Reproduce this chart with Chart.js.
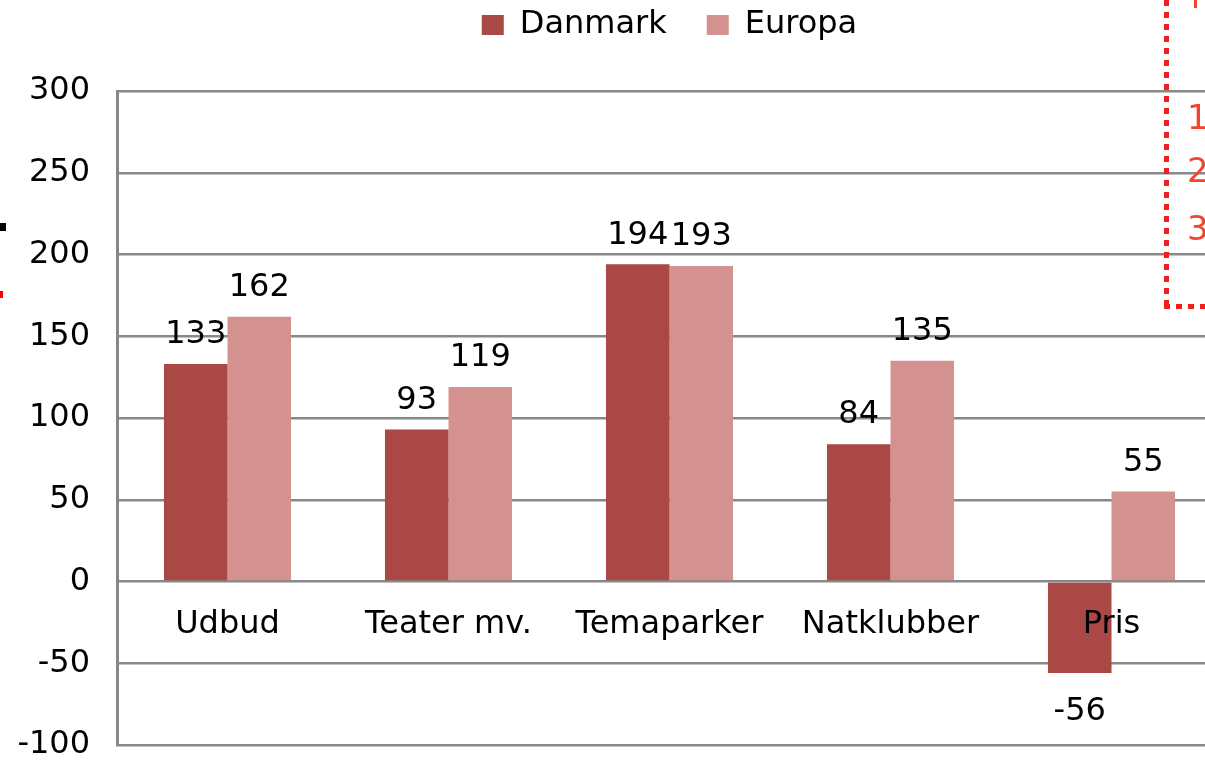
<!DOCTYPE html>
<html>
<head>
<meta charset="utf-8">
<title>udbud og pris</title>
<script src="https://cdn.jsdelivr.net/npm/chart.js@4/dist/chart.umd.min.js"></script>
<style>
  html, body { margin: 0; padding: 0; background: #fff; overflow: hidden; }
  #wrap { position: relative; width: 1205px; height: 760px; overflow: hidden; }
  #chart { position: absolute; left: 0; top: 0; }
  /* rester af en tekstboks ved siden af grafen */
  .prik-v { position: absolute; left: 1164px; top: 0; width: 5px; height: 306px;
    background: repeating-linear-gradient(to bottom, #f21d1d 0 6px, transparent 6px 12px); }
  .prik-h { position: absolute; left: 1164px; top: 304px; width: 60px; height: 5px;
    background: repeating-linear-gradient(to right, #f21d1d 0 6px, transparent 6px 12px); }
  .rod-tal { position: absolute; left: 1187px; font: 34px "DejaVu Sans", sans-serif; color: #f2452d; line-height: 1; }
  .rod-streg { position: absolute; left: 1194px; top: 0; width: 3px; height: 8px; background: #f2452d; }
  .sort-prik { position: absolute; left: 0; top: 223px; width: 6px; height: 8px; background: #000; }
  .rod-prik { position: absolute; left: 0; top: 291px; width: 3px; height: 7px; background: #f00; }
</style>
</head>
<body>
<div id="wrap">
  <canvas id="chart" width="1240" height="788"></canvas>
  <div class="prik-v"></div>
  <div class="prik-h"></div>
  <div class="rod-streg"></div>
  <div class="rod-tal" style="top:100px">1</div>
  <div class="rod-tal" style="top:153px">2</div>
  <div class="rod-tal" style="top:211px">3</div>
  <div class="sort-prik"></div>
  <div class="rod-prik"></div>
</div>
<script>
"use strict";

// data
var kategorier = ["Udbud", "Teater mv.", "Temaparker", "Natklubber", "Pris"];
var danmark = [133, 93, 194, 84, -56];
var europa = [162, 119, 193, 135, 55];
var yTicks = [-100, -50, 0, 50, 100, 150, 200, 250, 300];

var FONT = "'DejaVu Sans', Verdana, sans-serif";

// vaerdier over / under soejlerne
var vaerdiLabels = {
  id: "vaerdiLabels",
  afterDatasetsDraw: function (chart) {
    var ctx = chart.ctx;
    ctx.save();
    ctx.font = "32px " + FONT;
    ctx.fillStyle = "#000";
    ctx.textAlign = "center";
    ctx.textBaseline = "middle";
    chart.data.datasets.forEach(function (ds, i) {
      var meta = chart.getDatasetMeta(i);
      meta.data.forEach(function (el, j) {
        var v = ds.data[j];
        var y = v >= 0 ? el.y - 29 : el.y + 39;
        ctx.fillText(String(v), el.x, y);
      });
    });
    ctx.restore();
  }
};

// legenden centreres over plotomraadet
var legendePlacering = {
  id: "legendePlacering",
  afterLayout: function (chart) {
    var lg = chart.legend;
    if (!lg) { return; }
    lg.left = chart.chartArea.left;
    lg.right = chart.chartArea.right;
    lg.top = 9 - lg.options.labels.padding;
  }
};

new Chart(document.getElementById("chart").getContext("2d"), {
  type: "bar",
  data: {
    labels: kategorier,
    datasets: [
      { label: "Danmark", data: danmark, backgroundColor: "#aa4845" },
      { label: "Europa", data: europa, backgroundColor: "#d39290" }
    ]
  },
  options: {
    responsive: false,
    animation: false,
    events: [],
    datasets: { bar: { categoryPercentage: 0.575, barPercentage: 1 } },
    layout: { padding: { left: 0, right: 18, top: 9, bottom: 0 } },
    plugins: {
      tooltip: { enabled: false },
      legend: {
        position: "top",
        labels: {
          boxWidth: 22,
          boxHeight: 20,
          padding: 40,
          color: "#000",
          font: { family: FONT, size: 32, lineHeight: 1 }
        }
      }
    },
    scales: {
      x: {
        position: { y: 0 },
        offset: true,
        grid: { display: false, drawTicks: false },
        border: { display: false },
        ticks: {
          z: 1,
          color: "#000",
          padding: 24,
          maxRotation: 0,
          autoSkip: false,
          font: { family: FONT, size: 32 }
        }
      },
      y: {
        min: -100,
        max: 300,
        afterBuildTicks: function (axis) {
          axis.ticks = yTicks.map(function (v) { return { value: v }; });
        },
        afterFit: function (axis) {
          axis.width = 117;
        },
        grid: { color: "#888", lineWidth: 2.5, drawTicks: false },
        border: { color: "#888", width: 3 },
        ticks: {
          color: "#000",
          padding: 27,
          font: { family: FONT, size: 32, lineHeight: 1 }
        }
      }
    }
  },
  plugins: [vaerdiLabels, legendePlacering]
});
</script>
</body>
</html>
